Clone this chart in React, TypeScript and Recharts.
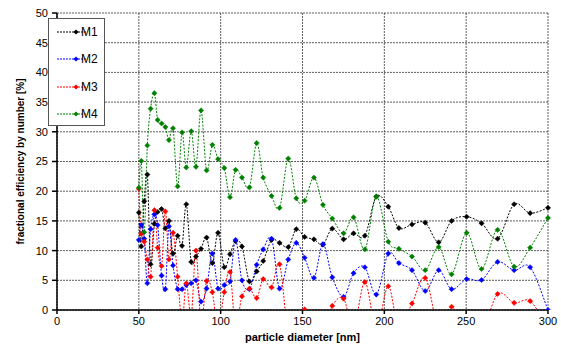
import { LineChart, Line, XAxis, YAxis, CartesianGrid, Legend, Label } from "recharts";

// particle diameter [nm] (SMPS bins)
const DIAMETER = [
  50, 51.5, 53.3, 55.2, 57.2, 59.5, 61.5, 63.9, 66.2, 68.4, 70.9, 73.7, 76.4, 79.0, 82.0, 84.9, 88.0,
  91.4, 94.9, 98.4, 102.2, 105.7, 109.1, 113.0, 117.6, 122.0, 126.0, 131.1, 136.0, 141.3, 146.2, 151.3,
  157.0, 162.5, 168.2, 175.1, 181.2, 188.1, 195.1, 202.4, 208.9, 216.9, 225.0, 233.2, 241.1, 250.3,
  259.4, 269.2, 279.3, 289.1, 300,
];

const M1 = [
  16.4, 10.7, 18.3, 22.8, 7.7, 14.5, 16.5, 17.0, 13.75, 15.0, 9.5, 12.5, 10.8, 17.8, 8.1, 9.0, 10.3,
  12.2, 7.9, 13.0, 7.2, 9.4, 11.6, 10.7, 4.8, 6.5, 8.25, 11.8, 11.3, 10.6, 13.6, 12.3, 11.9, 11.0,
  13.7, 11.9, 12.9, 12.5, 19.1, 17.4, 13.8, 14.4, 14.7, 11.4, 15.0, 15.7, 14.6, 12.0, 17.8, 16.3, 17.2,
];
const M2 = [
  11.8, 14.3, 12.0, 4.5, 13.6, 16.1, 14.3, 5.8, 3.5, 14.1, 7.5, 3.5, 3.5, 4.2, 4.5, 5.0, 1.4, 3.6,
  9.5, 3.6, 4.2, 4.8, 11.8, 5.0, 3.5, 7.6, 10.2, 12.0, 3.6, 8.5, 11.3, 8.8, 5.4, 11.1, 5.5, 2.2, 6.2,
  7.2, 2.6, 9.5, 7.9, 6.7, 3.2, 6.7, 3.5, 5.2, 5.05, 8.1, 6.7, 7.2, 0,
];
// negative efficiencies fall below the axis and are cut off
const M3 = [
  20.4, 12.8, 11.5, 8.5, 5.6, 16.8, 10.5, 7.4, 16.6, 8.5, 13.0, 5.6, -2, 4.5, -1, 10.0, -2, 4.9, 3.0,
  -3, 3.0, 6.4, -3, 2.3, 3.6, 2.0, 5.2, 3.8, 7.7, -4, -4, 0.1, -4, -4, 0.7, 1.9, -3, 4.7, -3, 4.0, -3,
  1.1, 5.4, -3, 0.55, -4, -4, 2.7, 1.2, 1.5, -3,
];
const M4 = [
  20.6, 25.1, 13.1, 27.7, 33.9, 36.5, 32.0, 31.4, 30.8, 28.6, 30.6, 20.8, 29.9, 24.0, 30.1, 24.1,
  33.6, 23.5, 27.8, 25.4, 23.9, 19.0, 23.6, 22.3, 20.65, 28.1, 22.3, 19.2, 17.2, 25.5, 18.8, 18.4,
  22.3, 17.7, 15.4, 12.9, 15.6, 10.2, 19.1, 11.5, 10.3, 9.0, 6.7, 10.6, 6.0, 13.0, 6.9, 13.5, 7.3,
  10.5, 15.5,
];

const X_TICKS = [0, 50, 100, 150, 200, 250, 300];
const Y_TICKS = [0, 5, 10, 15, 20, 25, 30, 35, 40, 45, 50];

const SERIES = [
  { key: "M1", values: M1, color: "#000000" },
  { key: "M2", values: M2, color: "#0000ff" },
  { key: "M3", values: M3, color: "#ff0000" },
  { key: "M4", values: M4, color: "#008000" },
];

const data = DIAMETER.map((d, i) => {
  const row: Record<string, number> = { d };
  SERIES.forEach((s) => (row[s.key] = s.values[i]));
  return row;
});

const FONT = "'Liberation Sans', Arial, sans-serif";

// Excel-like smoothed line (bezier, control points at 1/6 of neighbour span)
function excelCurve(context: any) {
  let pts: number[][] = [];
  return {
    areaStart() {},
    areaEnd() {},
    lineStart() {
      pts = [];
    },
    point(x: number, y: number) {
      pts.push([+x, +y]);
    },
    lineEnd() {
      const n = pts.length;
      if (!n) return;
      context.moveTo(pts[0][0], pts[0][1]);
      for (let i = 0; i < n - 1; i++) {
        const p0 = pts[Math.max(0, i - 1)];
        const p1 = pts[i];
        const p2 = pts[i + 1];
        const p3 = pts[Math.min(n - 1, i + 2)];
        context.bezierCurveTo(
          p1[0] + (p2[0] - p0[0]) / 6,
          p1[1] + (p2[1] - p0[1]) / 6,
          p2[0] - (p3[0] - p1[0]) / 6,
          p2[1] - (p3[1] - p1[1]) / 6,
          p2[0],
          p2[1]
        );
      }
    },
  };
}

function diamond(color: string) {
  return (props: any) => {
    const { cx, cy, value, index } = props;
    if (value == null || value < 0 || cx == null || cy == null) return <g key={index} />;
    const r = 2.6;
    return (
      <polygon
        key={index}
        points={`${cx},${cy - r} ${cx + r},${cy} ${cx},${cy + r} ${cx - r},${cy}`}
        fill={color}
        stroke={color}
        strokeWidth={0.5}
      />
    );
  };
}

function LegendBox() {
  return (
    <div
      style={{
        width: 55,
        height: 106,
        background: "#fff",
        border: "1px solid #555",
        fontFamily: FONT,
        fontSize: 12,
      }}
    >
      {SERIES.map((s, i) => (
        <div key={s.key} style={{ position: "absolute", left: 0, top: 6 + i * 27.3, height: 16, width: 56 }}>
          <svg width={32} height={16} style={{ position: "absolute", left: 8, top: 0 }}>
            <line x1={1} y1={8} x2={31} y2={8} stroke={s.color} strokeWidth={1} strokeDasharray="2 1" />
            <polygon points="20,5.4 22.6,8 20,10.6 17.4,8" fill={s.color} />
          </svg>
          <span style={{ position: "absolute", left: 33, top: 1, color: "#000" }}>{s.key}</span>
        </div>
      ))}
    </div>
  );
}

export default function App() {
  return (
    <div style={{ position: "absolute", left: 0, top: 0, width: 561, height: 346, background: "#fff" }}>
      <LineChart width={561} height={346} data={data} margin={{ top: 13, right: 13, bottom: 0, left: 0 }}>
        <CartesianGrid stroke="#333" strokeDasharray="2 1" strokeWidth={0.8} />
        <XAxis
          dataKey="d"
          type="number"
          domain={[0, 300]}
          ticks={X_TICKS}
          height={36}
          stroke="#000"
          strokeWidth={1.5}
          tickSize={4}
          tickMargin={3}
          tick={{ fill: "#000", fontSize: 11, fontFamily: FONT }}
        >
          <Label
            value="particle diameter [nm]"
            position="insideBottom"
            offset={5}
            style={{ fontFamily: FONT, fontSize: 11, fontWeight: "bold", fill: "#000" }}
          />
        </XAxis>
        <YAxis
          type="number"
          domain={[0, 50]}
          ticks={Y_TICKS}
          allowDataOverflow
          width={57}
          stroke="#000"
          strokeWidth={1.5}
          tickSize={5}
          tickMargin={4}
          tick={{ fill: "#000", fontSize: 11, fontFamily: FONT }}
        >
          <Label
            value="fractional efficiency by number [%]"
            angle={-90}
            position="insideLeft"
            offset={20}
            style={{ textAnchor: "middle", fontFamily: FONT, fontSize: 10, fontWeight: "bold", fill: "#000" }}
          />
        </YAxis>
        <Legend
          layout="vertical"
          align="center"
          verticalAlign="middle"
          content={() => <LegendBox />}
          wrapperStyle={{ left: 48, top: 18, width: 57, height: 108 }}
        />
        {SERIES.map((s) => (
          <Line
            key={s.key}
            dataKey={s.key}
            type={excelCurve as any}
            stroke={s.color}
            strokeWidth={1}
            strokeDasharray="2 1.5"
            dot={diamond(s.color)}
            activeDot={false}
            isAnimationActive={false}
          />
        ))}
      </LineChart>
    </div>
  );
}
